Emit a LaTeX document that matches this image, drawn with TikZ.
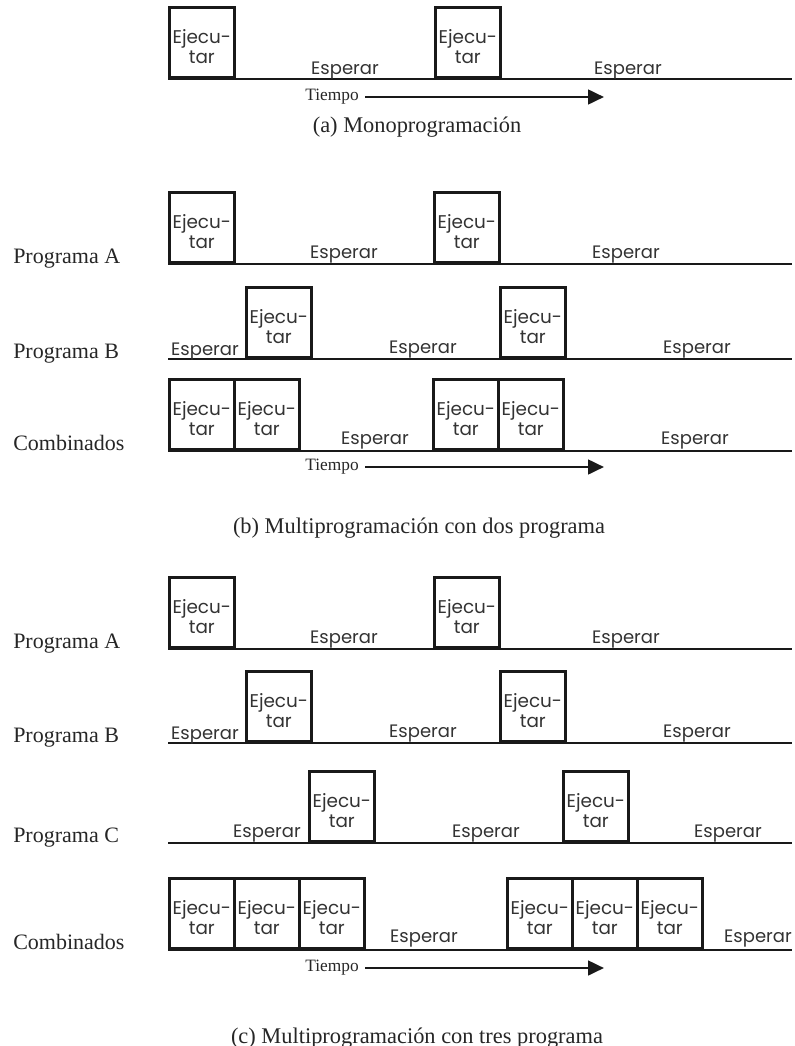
\documentclass[tikz,border=0pt]{standalone}
\usepackage{fontspec}
\setmainfont{Liberation Serif}
\newfontfamily\boxfont{Poppins}
\usetikzlibrary{arrows.meta}
\newcommand\ejtxt{\rule{0pt}{16.5pt}Ejecu-\\tar}
\tikzset{
  exbox/.style={draw=black!90, line width=2pt, minimum width=48.75pt, minimum height=52.5pt,
    inner sep=0pt, anchor=south west, align=center, text=black!80,
    font=\boxfont\fontsize{13.8}{14.8}\selectfont},
  waitlbl/.style={anchor=base, inner sep=0pt, text=black!80, font=\boxfont\fontsize{13.5}{14.5}\selectfont},
  tline/.style={draw=black!90, line width=2.2pt},
  proglbl/.style={anchor=base west, inner sep=0pt, text=black!85, font=\fontsize{16.5}{18}\selectfont},
  caption/.style={anchor=base, inner sep=0pt, text=black!85, font=\fontsize{16.8}{18}\selectfont},
  tiempo/.style={anchor=east, inner xsep=4.5pt, inner ysep=0pt, text=black!85, font=\fontsize{13}{14}\selectfont},
  tarrow/.style={draw=black!90, line width=2pt, -{Triangle[length=12pt,width=11pt]}}
}
\begin{document}
\begin{tikzpicture}[x=0.75pt,y=-0.75pt]
\useasboundingbox (0,0) rectangle (794,1046);

% ---------------- (a) ----------------
\coordinate (aL0) at (168,79); \coordinate (aL1) at (792,79);
\draw[tline] (aL0) -- (aL1);
\node[exbox] (a1) at (168,79) {\ejtxt};
\node[exbox] (a2) at (434,79) {\ejtxt};
\node[waitlbl] (aw1) at (345,74) {Esperar};
\node[waitlbl] (aw2) at (628,74) {Esperar};
\node[tiempo] (ta) at (365,97) {Tiempo};
\coordinate (taEnd) at (604,97);
\draw[tarrow] (ta.east) -- (ta.east -| taEnd);
\node[caption] (capa) at (417,132) {(a) Monoprogramación};

% ---------------- (b) ----------------
\node[proglbl] (bAl) at (13,263) {Programa A};
\coordinate (bAL0) at (168,264); \coordinate (bAL1) at (792,264);
\draw[tline] (bAL0) -- (bAL1);
\node[exbox] (bA1) at (168,264) {\ejtxt};
\node[exbox] (bA2) at (433,264) {\ejtxt};
\node[waitlbl] (bAw1) at (344,258) {Esperar};
\node[waitlbl] (bAw2) at (626,258) {Esperar};

\node[proglbl] (bBl) at (13,358) {Programa B};
\coordinate (bBL0) at (168,359); \coordinate (bBL1) at (792,359);
\draw[tline] (bBL0) -- (bBL1);
\node[exbox] (bB1) at (245,359) {\ejtxt};
\node[exbox] (bB2) at (499,359) {\ejtxt};
\node[waitlbl] (bBw1) at (205,355) {Esperar};
\node[waitlbl] (bBw2) at (423,353) {Esperar};
\node[waitlbl] (bBw3) at (697,353) {Esperar};

\node[proglbl] (bCl) at (13,450) {Combinados};
\coordinate (bCL0) at (168,451); \coordinate (bCL1) at (792,451);
\draw[tline] (bCL0) -- (bCL1);
\node[exbox] (bC1) at (168,451) {\ejtxt};
\node[exbox] (bC2) at (233,451) {\ejtxt};
\node[exbox] (bC3) at (432,451) {\ejtxt};
\node[exbox] (bC4) at (497,451) {\ejtxt};
\node[waitlbl] (bCw1) at (375,444) {Esperar};
\node[waitlbl] (bCw2) at (695,444) {Esperar};
\node[tiempo] (tb) at (365,467) {Tiempo};
\coordinate (tbEnd) at (604,467);
\draw[tarrow] (tb.east) -- (tb.east -| tbEnd);
\node[caption] (capb) at (419,533) {(b) Multiprogramación con dos programa};

% ---------------- (c) ----------------
\node[proglbl] (cAl) at (13,648) {Programa A};
\coordinate (cAL0) at (168,649); \coordinate (cAL1) at (792,649);
\draw[tline] (cAL0) -- (cAL1);
\node[exbox] (cA1) at (168,649) {\ejtxt};
\node[exbox] (cA2) at (433,649) {\ejtxt};
\node[waitlbl] (cAw1) at (344,643) {Esperar};
\node[waitlbl] (cAw2) at (626,643) {Esperar};

\node[proglbl] (cBl) at (13,742) {Programa B};
\coordinate (cBL0) at (168,743); \coordinate (cBL1) at (792,743);
\draw[tline] (cBL0) -- (cBL1);
\node[exbox] (cB1) at (245,743) {\ejtxt};
\node[exbox] (cB2) at (499,743) {\ejtxt};
\node[waitlbl] (cBw1) at (205,739) {Esperar};
\node[waitlbl] (cBw2) at (423,737) {Esperar};
\node[waitlbl] (cBw3) at (697,737) {Esperar};

\node[proglbl] (cCl) at (13,842) {Programa C};
\coordinate (cCL0) at (168,843); \coordinate (cCL1) at (792,843);
\draw[tline] (cCL0) -- (cCL1);
\node[exbox] (cC1) at (308,843) {\ejtxt};
\node[exbox] (cC2) at (562,843) {\ejtxt};
\node[waitlbl] (cCw1) at (267,837) {Esperar};
\node[waitlbl] (cCw2) at (486,837) {Esperar};
\node[waitlbl] (cCw3) at (728,837) {Esperar};

\node[proglbl] (cDl) at (13,949) {Combinados};
\coordinate (cDL0) at (168,950); \coordinate (cDL1) at (792,950);
\draw[tline] (cDL0) -- (cDL1);
\node[exbox] (cD1) at (168,950) {\ejtxt};
\node[exbox] (cD2) at (233,950) {\ejtxt};
\node[exbox] (cD3) at (298,950) {\ejtxt};
\node[exbox] (cD4) at (506,950) {\ejtxt};
\node[exbox] (cD5) at (571,950) {\ejtxt};
\node[exbox] (cD6) at (636,950) {\ejtxt};
\node[waitlbl] (cDw1) at (424,942) {Esperar};
\node[waitlbl] (cDw2) at (758,942) {Esperar};
\node[tiempo] (tc) at (365,968) {Tiempo};
\coordinate (tcEnd) at (604,968);
\draw[tarrow] (tc.east) -- (tc.east -| tcEnd);
\node[caption] (capc) at (417,1043) {(c) Multiprogramación con tres programa};
\end{tikzpicture}
\end{document}
